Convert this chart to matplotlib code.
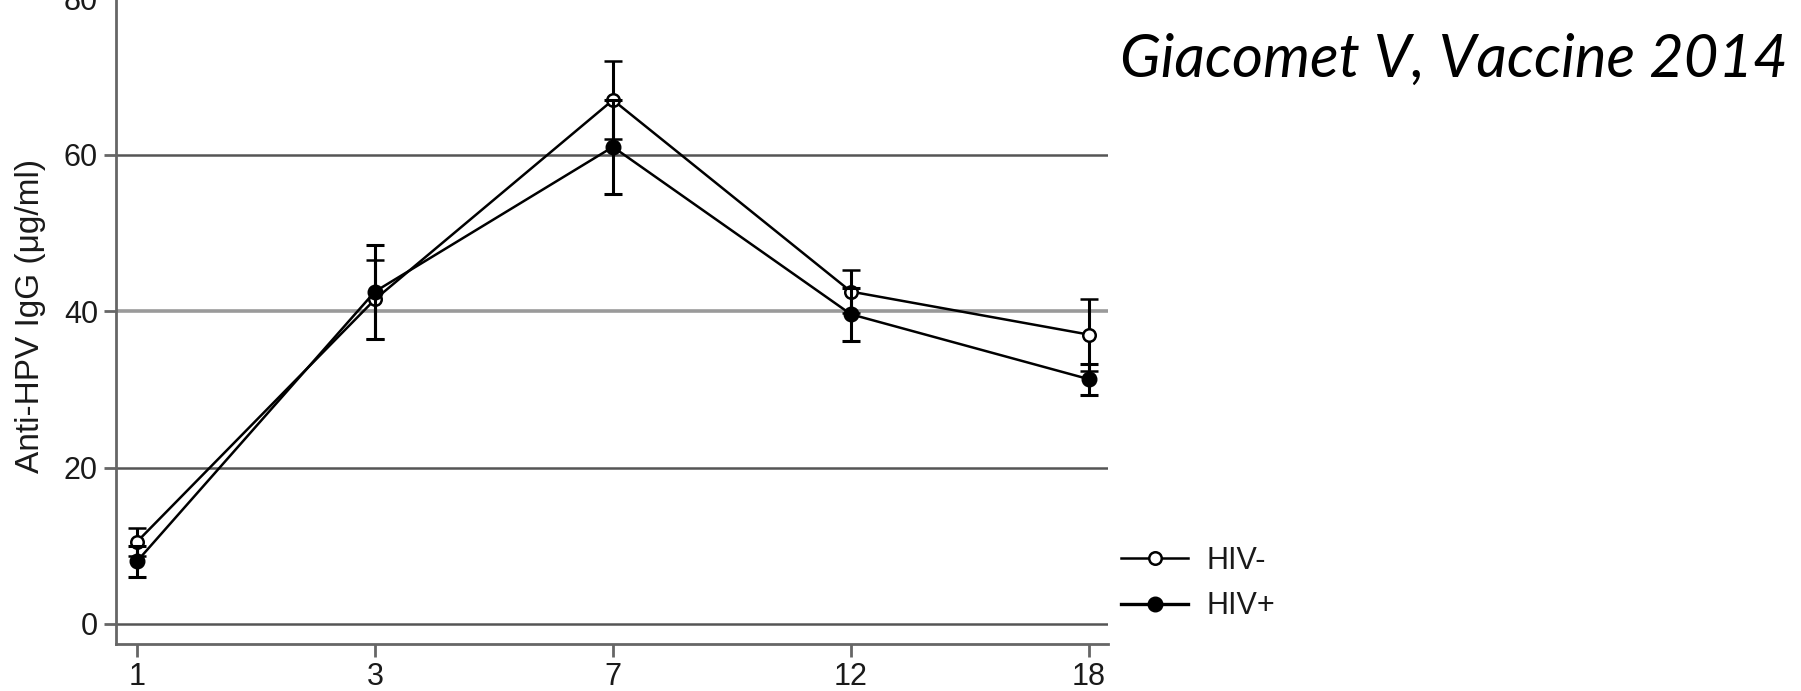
import matplotlib
matplotlib.use("Agg")
import matplotlib.pyplot as plt
from matplotlib.lines import Line2D
import numpy as np

# months after first dose (categorical x positions)
months = ["1", "3", "7", "12", "18"]

hiv_neg = [10.5, 41.5, 67.0, 42.5, 37.0]
hiv_neg_err = [1.8, 5.0, 5.0, 2.8, 4.6]

hiv_pos = [8.0, 42.5, 61.0, 39.6, 31.3]
hiv_pos_err = [2.0, 6.0, 6.0, 3.4, 2.0]

y_ticks = [0, 20, 40, 60, 80]

plt.rcParams['font.family'] = ['Liberation Sans', 'DejaVu Sans']

fig = plt.figure(figsize=(18.01, 6.91), dpi=100)
# axes runs past the top edge, so the top of it is clipped like the source image
ax = fig.add_axes([0.0644, 0.0687, 0.5508, 0.979])

x = np.arange(len(months))

# horizontal reference lines (80 sits right at the clipped top edge)
for v in y_ticks[:-1]:
    if v == 40:
        ax.axhline(v, color='#9a9a9a', lw=2.6, zorder=1)
    else:
        ax.axhline(v, color='#555555', lw=1.8, zorder=1)

ax.errorbar(x, hiv_neg, yerr=hiv_neg_err, color='black', lw=1.8,
            elinewidth=2.2, capsize=6.5, capthick=2.2,
            marker='o', markersize=9, markerfacecolor='white',
            markeredgecolor='black', markeredgewidth=1.8, zorder=3)
ax.errorbar(x, hiv_pos, yerr=hiv_pos_err, color='black', lw=1.8,
            elinewidth=2.2, capsize=6.5, capthick=2.2,
            marker='o', markersize=10.5, markerfacecolor='black',
            markeredgecolor='black', zorder=4)

ax.set_xlim(-0.088, 4.08)
ax.set_ylim(-2.5, 84)
ax.set_xticks(x)
ax.set_xticklabels(months)
ax.set_yticks(y_ticks)

for s in ['top', 'right']:
    ax.spines[s].set_visible(False)
for s in ['left', 'bottom']:
    ax.spines[s].set_color('#666666')
    ax.spines[s].set_linewidth(2)

ax.tick_params(axis='both', colors='#666666', width=2, length=9, pad=4,
               labelsize=22, labelcolor='#1a1a1a')
ax.set_ylabel("Anti-HPV IgG (\u03bcg/ml)", fontsize=24, color='#1a1a1a')
ax.yaxis.set_label_coords(-0.071, 0.484)

handles = [
    Line2D([], [], color='black', lw=1.8, marker='o', markersize=9,
           markerfacecolor='white', markeredgewidth=1.8),
    Line2D([], [], color='black', lw=2.4, marker='o', markersize=10.5,
           markerfacecolor='black'),
]
leg = fig.legend(handles, ["HIV-", "HIV+"], loc='upper left',
                 bbox_to_anchor=(1121 / 1801, 1 - 546 / 691),
                 bbox_transform=fig.transFigure, frameon=False,
                 fontsize=22, handlelength=2.2, handletextpad=0.6,
                 labelspacing=0.5, borderpad=0, borderaxespad=0)
for t in leg.get_texts():
    t.set_color('#1a1a1a')

fig.text(0.622, 0.913, "Giacomet V, Vaccine 2014", fontsize=43, style='italic',
         family=['Lato', 'DejaVu Sans'], va='center', ha='left')

fig.savefig("out.png", dpi=100)
